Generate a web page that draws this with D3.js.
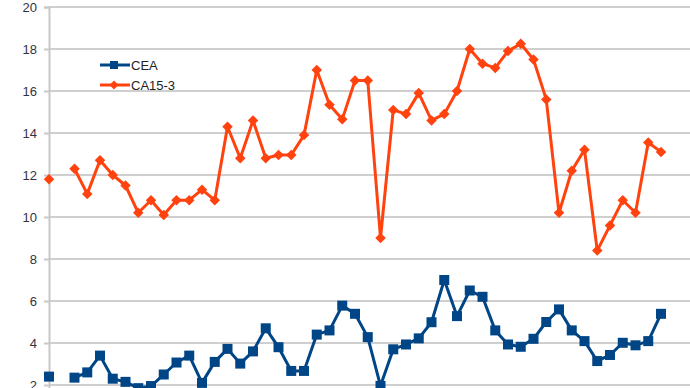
<!DOCTYPE html>
<html><head><meta charset="utf-8">
<script src="https://cdn.jsdelivr.net/npm/d3@7"></script>
<style>body{margin:0;background:#fff}svg{display:block}text{font-family:"Liberation Sans",Arial,sans-serif}</style>
</head><body>
<script>
const categories = d3.range(49);
const ceaValues = [2.4,null,2.35,2.6,3.4,2.3,2.15,1.85,1.95,2.5,3.07,3.4,2.1,3.1,3.72,3.02,3.6,4.7,3.8,2.67,2.67,4.4,4.6,5.78,5.39,4.28,1.96,3.7,3.93,4.22,4.99,7.0,5.28,6.5,6.2,4.6,3.93,3.82,4.2,5.0,5.6,4.6,4.09,3.14,3.43,4.01,3.89,4.09,5.39];
const ca153Values = [11.8,null,12.3,11.1,12.7,12.0,11.5,10.2,10.8,10.1,10.8,10.8,11.3,10.8,14.3,12.8,14.6,12.8,12.95,12.95,13.9,17.0,15.35,14.65,16.5,16.5,9.0,15.1,14.9,15.9,14.6,14.9,16.0,18.0,17.3,17.1,17.9,18.25,17.5,15.6,10.2,12.2,13.2,8.4,9.6,10.8,10.2,13.55,13.1];
const yTicks = [2,4,6,8,10,12,14,16,18,20];
const seriesNames = ["CEA","CA15-3"];
const seriesColors = ["#004586","#ff420e"];

const W=690,H=388;
const svg=d3.select("body").append("svg").attr("width",W).attr("height",H);
const x=d3.scaleLinear().domain([0,48]).range([49,661]);
const y=d3.scaleLinear().domain([0,20]).range([427,7]);

// gridlines
svg.append("g").selectAll("line").data(yTicks).join("line")
  .attr("x1",49).attr("x2",W).attr("y1",d=>y(d)).attr("y2",d=>y(d))
  .attr("stroke","#cfcfcf").attr("stroke-width",2);

const axis=d3.axisLeft(y).tickValues(yTicks).tickSize(5).tickPadding(7);
const ga=svg.append("g").attr("transform","translate(49,0)").call(axis);
ga.select(".domain").attr("stroke","#c8c8c8").attr("stroke-width",2);
ga.selectAll(".tick line").attr("stroke","#c8c8c8").attr("stroke-width",2);
ga.selectAll(".tick text").attr("font-size",13).attr("fill","#333344")
  .attr("font-family","'Liberation Sans',Arial,sans-serif");

const line=d3.line().defined(d=>d.v!=null).x(d=>x(d.i)).y(d=>y(d.v));
const mk=(vals)=>categories.map(i=>({i,v:vals[i]}));

function drawSeries(vals,color,shape){
  svg.append("path").datum(mk(vals)).attr("d",line).attr("fill","none")
    .attr("stroke",color).attr("stroke-width",3).attr("stroke-linejoin","round");
  const pts=mk(vals).filter(d=>d.v!=null);
  if(shape==="square"){
    svg.append("g").selectAll("rect").data(pts).join("rect")
      .attr("x",d=>x(d.i)-5).attr("y",d=>y(d.v)-5).attr("width",10).attr("height",10)
      .attr("fill",color);
  } else {
    svg.append("g").selectAll("path").data(pts).join("path")
      .attr("d",d3.symbol(d3.symbolDiamond2,70)())
      .attr("transform",d=>`translate(${x(d.i)},${y(d.v)})`).attr("fill",color);
  }
}
drawSeries(ca153Values,seriesColors[1],"diamond");
drawSeries(ceaValues,seriesColors[0],"square");

// legend
const lg=svg.append("g");
[0,1].forEach(k=>{
  const ly=65+k*20;
  lg.append("line").attr("x1",100).attr("x2",130).attr("y1",ly).attr("y2",ly)
    .attr("stroke",seriesColors[k]).attr("stroke-width",3);
  if(k===0) lg.append("rect").attr("x",110).attr("y",ly-4).attr("width",8).attr("height",8).attr("fill",seriesColors[k]);
  else lg.append("path").attr("d",d3.symbol(d3.symbolDiamond2,50)()).attr("transform",`translate(114,${ly})`).attr("fill",seriesColors[k]);
  lg.append("text").attr("x",131).attr("y",ly+4.5).attr("font-size",13).attr("fill","#222")
    .text(seriesNames[k]);
});
</script>
</body></html>
